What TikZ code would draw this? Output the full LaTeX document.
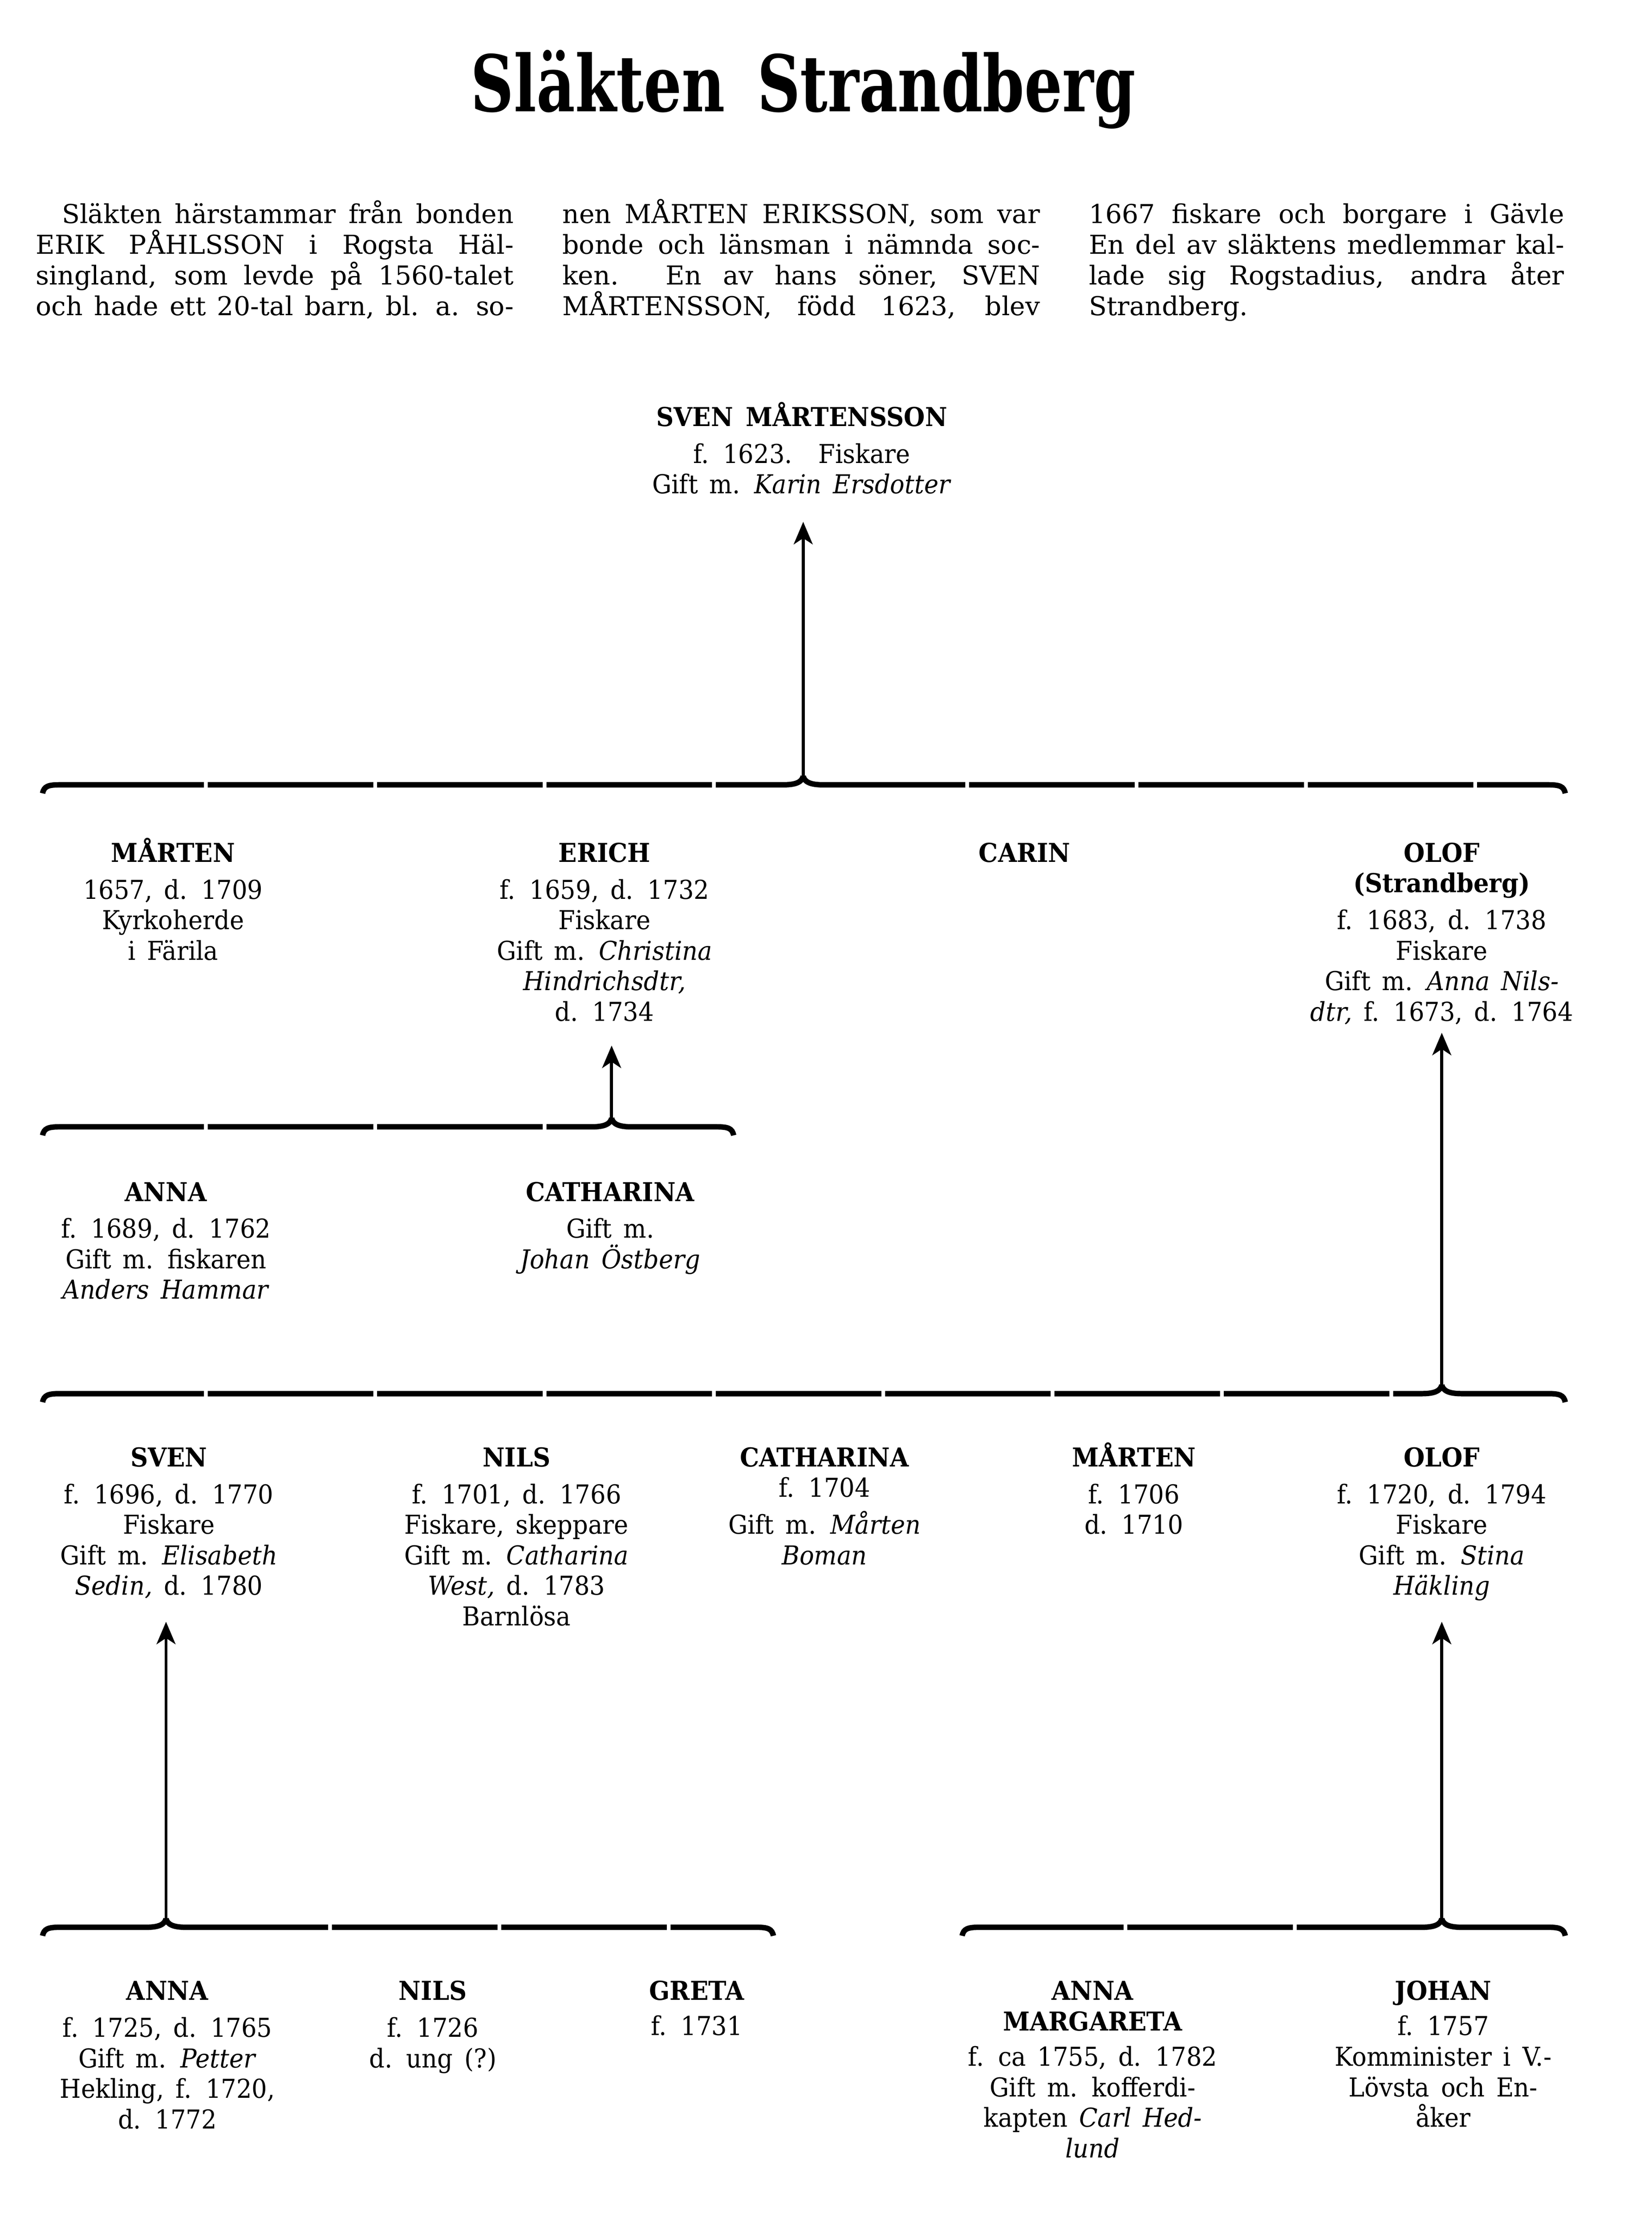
\documentclass[tikz,border=0pt]{standalone}
\usepackage{fontspec}
\usepackage{graphicx}
\setmainfont{DejaVu Serif}[FakeStretch=0.93, WordSpace=1.5]
\newfontfamily\introfont{DejaVu Serif}[WordSpace=1.2]
\usetikzlibrary{arrows.meta}
\newcommand{\TopStrut}{\rule{0pt}{11pt}}
\newcommand{\BotStrut}{\rule[-3pt]{0pt}{3pt}}
\newcommand{\JL}[2][202pt]{\makebox[#1][s]{#2}}
\newcommand{\FamBrace}[5]{%
  \draw[bracebar] ({#1},{#3+6}) .. controls ({#1+1},{#3+1}) and ({#1+4},{#3}) .. ({#1+12},{#3})
     -- ({#4-14},{#3}) .. controls ({#4-5},{#3}) and ({#4-1},{#3-2}) .. ({#4},{#3-6});
  \draw[bracebar] ({#4},{#3-6}) .. controls ({#4+1},{#3-2}) and ({#4+5},{#3}) .. ({#4+14},{#3})
     -- ({#2-12},{#3}) .. controls ({#2-4},{#3}) and ({#2-1},{#3+1}) .. ({#2},{#3+6});
  \coordinate (#5) at ({#4},{#3-6});
}
\begin{document}
\begin{tikzpicture}[x=0.6pt,y=-0.6pt,
  person/.style={anchor=north, align=center, inner sep=0pt, font=\fontsize{11}{12.9}\selectfont},
  intro/.style={anchor=north west, inner sep=0pt, align=left, font=\introfont\fontsize{11}{13}\selectfont},
  titletext/.style={anchor=base, inner sep=0pt},
  bracebar/.style={line width=2.3pt, dash pattern=on 70pt off 1.6pt},
  famarrow/.style={line width=1.3pt, -{Stealth[length=9.5pt,width=8pt,inset=2.6pt]}}
]
\useasboundingbox (0,0) rectangle (1164,1568.5);
\fill[white] (0,0) rectangle (1164,1568.5);

% title
\node[titletext] (title) at (566,78.6)
  {\resizebox{281pt}{\height}{\fontsize{33}{33}\selectfont\bfseries Släkten\hspace{0.5em}Strandberg}};

% introduction in three columns
\node[intro] (col1) at (25,138.7) {\TopStrut\JL{\hspace*{11pt}Släkten härstammar från bonden}\\
  \JL{ERIK PÅHLSSON i Rogsta Häl-}\\
  \JL{singland, som levde på 1560-talet}\\
  \JL{och hade ett 20-tal barn, bl. a. so-}};
\node[intro] (col2) at (396,138.7) {\TopStrut\JL{nen MÅRTEN ERIKSSON, som var}\\
  \JL{bonde och länsman i nämnda soc-}\\
  \JL{ken. En av hans söner, SVEN}\\
  \JL{MÅRTENSSON, född 1623, blev}};
\node[intro] (col3) at (767,138.7) {\TopStrut\JL[201pt]{1667 fiskare och borgare i Gävle}\\
  \JL[201pt]{En del av släktens medlemmar kal-}\\
  \JL[201pt]{lade sig Rogstadius, andra åter}\\
  Strandberg.};

% generation 0
\node[person] (svenm) at (565,281.7) {\TopStrut\textbf{SVEN MÅRTENSSON}\\[2.7pt]
  f. 1623.\quad Fiskare\\ Gift m. \textit{Karin Ersdotter}\BotStrut};

% generation 1
\node[person] (marten1) at (122,588.7) {\TopStrut\textbf{MÅRTEN}\\[2.7pt]
  1657, d. 1709\\ Kyrkoherde\\ i Färila\BotStrut};
\node[person] (erich) at (426,588.7) {\TopStrut\textbf{ERICH}\\[2.7pt]
  f. 1659, d. 1732\\ Fiskare\\ Gift m. \textit{Christina}\\ \textit{Hindrichsdtr,}\\ d. 1734\BotStrut};
\node[person] (carin) at (722,588.7) {\TopStrut\textbf{CARIN}\BotStrut};
\node[person] (olof1) at (1016,588.7) {\TopStrut\textbf{OLOF}\\ \textbf{(Strandberg)}\\[2.7pt]
  f. 1683, d. 1738\\ Fiskare\\ Gift m. \textit{Anna Nils-}\\ \textit{dtr,} f. 1673, d. 1764\BotStrut};

% generation 2 (children of Erich)
\node[person] (anna1) at (117,827.7) {\TopStrut\textbf{ANNA}\\[2.7pt]
  f. 1689, d. 1762\\ Gift m. fiskaren\\ \textit{Anders Hammar}\BotStrut};
\node[person] (cath1) at (430,827.7) {\TopStrut\textbf{CATHARINA}\\[2.7pt]
  Gift m.\\ \textit{Johan Östberg}\BotStrut};

% generation 3 (children of Olof)
\node[person] (sven2) at (119,1014.7) {\TopStrut\textbf{SVEN}\\[2.7pt]
  f. 1696, d. 1770\\ Fiskare\\ Gift m. \textit{Elisabeth}\\ \textit{Sedin,} d. 1780\BotStrut};
\node[person] (nils1) at (364,1014.7) {\TopStrut\textbf{NILS}\\[2.7pt]
  f. 1701, d. 1766\\ Fiskare, skeppare\\ Gift m. \textit{Catharina}\\ \textit{West,} d. 1783\\ Barnlösa\BotStrut};
\node[person] (cath2) at (581,1014.7) {\TopStrut\textbf{CATHARINA}\\
  f. 1704\\[2.7pt] Gift m. \textit{Mårten}\\ \textit{Boman}\BotStrut};
\node[person] (marten2) at (799,1014.7) {\TopStrut\textbf{MÅRTEN}\\[2.7pt]
  f. 1706\\ d. 1710\BotStrut};
\node[person] (olof2) at (1016,1014.7) {\TopStrut\textbf{OLOF}\\[2.7pt]
  f. 1720, d. 1794\\ Fiskare\\ Gift m. \textit{Stina}\\ \textit{Häkling}\BotStrut};

% generation 4
\node[person] (anna2) at (118,1390.7) {\TopStrut\textbf{ANNA}\\[2.7pt]
  f. 1725, d. 1765\\ Gift m. \textit{Petter}\\ Hekling, f. 1720,\\ d. 1772\BotStrut};
\node[person] (nils2) at (305,1390.7) {\TopStrut\textbf{NILS}\\[2.7pt]
  f. 1726\\ d. ung (?)\BotStrut};
\node[person] (greta) at (491,1390.7) {\TopStrut\textbf{GRETA}\\[2pt]
  f. 1731\BotStrut};
\node[person] (annam) at (770,1390.7) {\TopStrut\textbf{ANNA}\\ \textbf{MARGARETA}\\[2pt]
  f. ca 1755, d. 1782\\ Gift m. kofferdi-\\ kapten \textit{Carl Hed-}\\ \textit{lund}\BotStrut};
\node[person] (johan) at (1017,1390.7) {\TopStrut\textbf{JOHAN}\\[2pt]
  f. 1757\\ Komminister i V.-\\ Lövsta och En-\\ åker\BotStrut};

% family braces
\FamBrace{30}{1103}{553}{566}{b1}
\FamBrace{30}{517}{794}{431}{b2}
\FamBrace{30}{1103}{982}{1016}{b3}
\FamBrace{30}{545}{1358}{117}{b4}
\FamBrace{678}{1103}{1358}{1016}{b5}

% descent arrows (children to parent)
\draw[famarrow, shorten >=8.7pt] (b1) -- (b1 |- svenm.south);
\draw[famarrow, shorten >=7.2pt] (b2) -- (b2 |- erich.south);
\draw[famarrow, shorten >=1.8pt] (b3) -- (b3 |- olof1.south);
\draw[famarrow, shorten >=8.1pt] (b4) -- (b4 |- sven2.south);
\draw[famarrow, shorten >=8.1pt] (b5) -- (b5 |- olof2.south);
\end{tikzpicture}
\end{document}
